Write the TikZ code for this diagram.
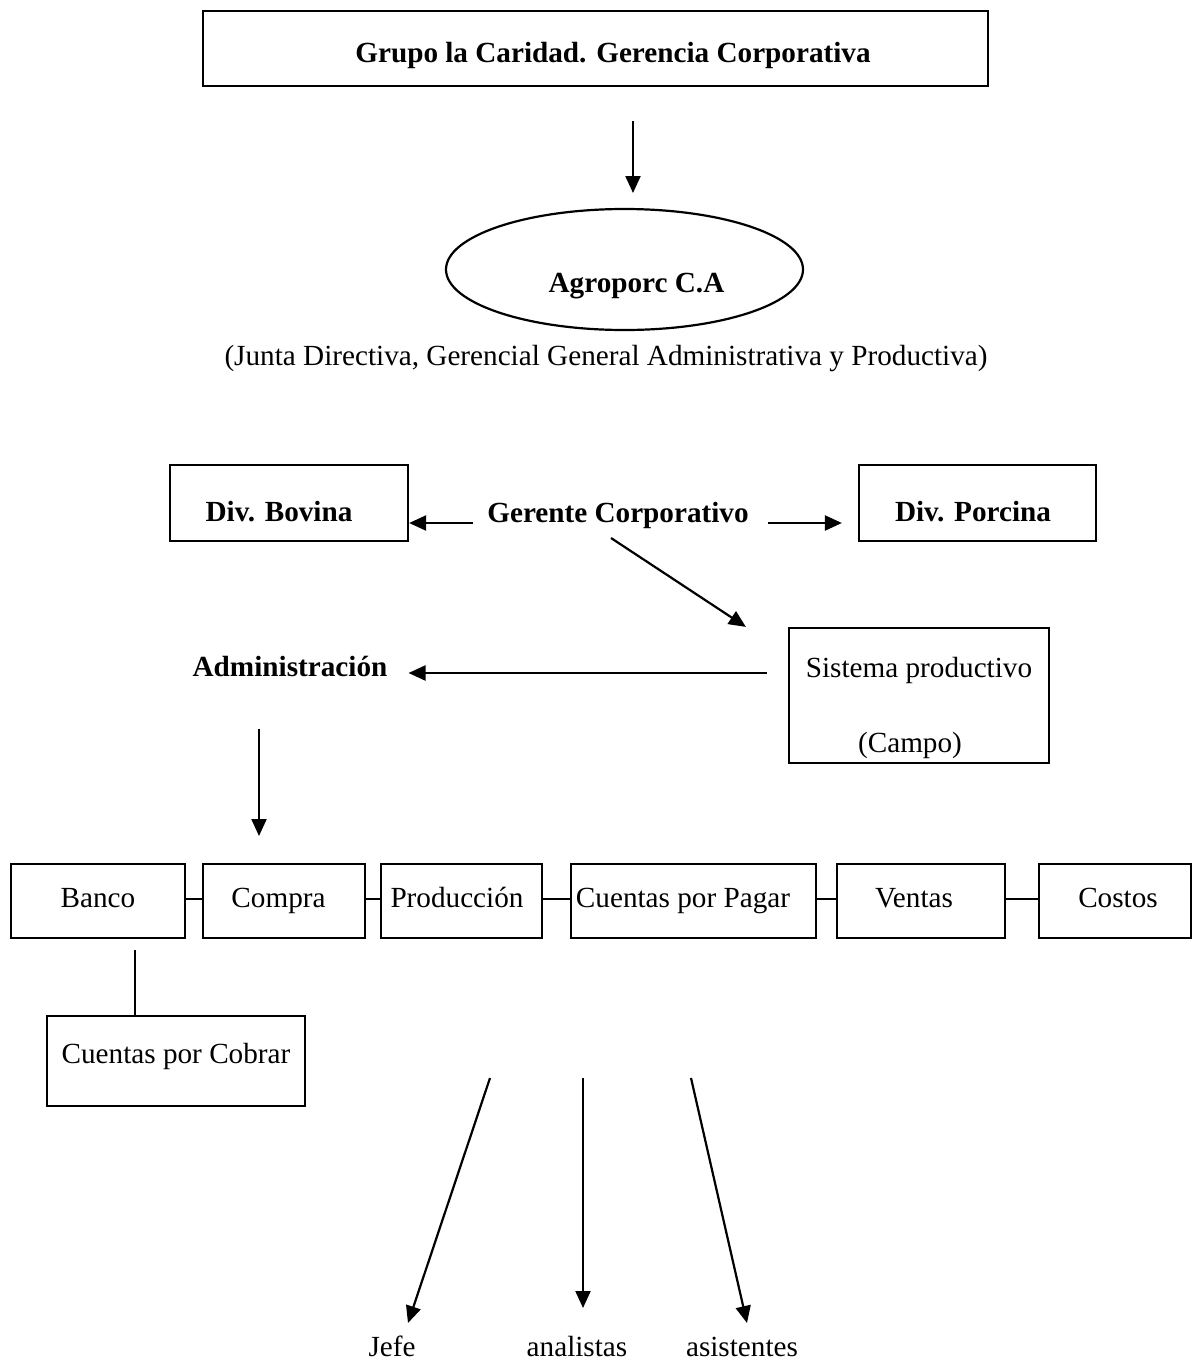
\documentclass[tikz,border=0pt]{standalone}
\usepackage{fontspec}
\setmainfont{Liberation Serif}
\usetikzlibrary{arrows.meta,shapes.geometric}
\newcommand{\offtext}[3]{\raisebox{#2}[\height][\depth]{\hspace*{#1}#3\hspace*{-#1}}}
\tikzset{
  txt/.style={font=\fontsize{29.2}{35}\selectfont},
  btxt/.style={font=\fontsize{29.2}{35}\selectfont\bfseries},
  box/.style={draw, line width=2.2pt, inner sep=0pt, txt},
  rowbox/.style={box, minimum height=74pt, text height=20pt, text depth=6.6pt},
  bbox/.style={draw, line width=2.2pt, inner sep=0pt, btxt},
  arr/.style={-{Triangle[length=17pt,width=15pt]}, line width=2.2pt},
  ln/.style={line width=2.2pt},
}
\begin{document}
\begin{tikzpicture}[x=1pt,y=-1pt]
\useasboundingbox (0,0) rectangle (1194,1363);

% top
\node[bbox, minimum width=785pt, minimum height=75pt] (top) at (595.5,48.5)
  {\offtext{17.5pt}{-7pt}{Grupo la Caridad. Gerencia Corporativa}};
\coordinate (t1) at (633,121);
\coordinate (t2) at (633,193);
\draw[arr] (t1) -- (t2);

\node[draw, ellipse, line width=2.2pt, inner sep=0pt, btxt,
      minimum width=357pt, minimum height=121pt] (agro) at (624.5,269.5)
  {\offtext{12pt}{-17pt}{Agroporc C.A}};
\node[txt, anchor=base] (junta) at (606,365)
  {(Junta Directiva, Gerencial General Administrativa y Productiva)};

% middle
\node[bbox, minimum width=238pt, minimum height=76pt] (bov) at (289,503)
  {\offtext{-10pt}{-9pt}{Div. Bovina}};
\node[btxt, anchor=base, inner sep=0pt] (gc) at (618,522) {Gerente Corporativo};
\node[bbox, minimum width=237pt, minimum height=76pt] (por) at (977.5,503)
  {\offtext{-4.5pt}{-9pt}{Div. Porcina}};
\draw[arr] ([xshift=-14pt,yshift=-1pt]gc.base west) -- ([yshift=-1pt]bov.east |- gc.base);
\draw[arr] ([xshift=19pt,yshift=-1pt]gc.base east) -- ([xshift=-16pt,yshift=-1pt]por.west |- gc.base);

\node[box, minimum width=260pt, minimum height=135pt] (sis) at (919,695.5)
  {\offtext{0pt}{-12pt}{\begin{tabular}{@{}c@{}}Sistema productivo\\[40pt]\hspace*{-18pt}(Campo)\end{tabular}}};
\draw[arr] ([xshift=-7pt,yshift=-16pt]gc.base) -- ([xshift=-42pt]sis.north west);

\node[btxt, anchor=base, inner sep=0pt] (adm) at (290,676) {Administración};
\draw[arr] ([xshift=-21pt,yshift=3pt]sis.west |- adm.base) -- ([xshift=21pt,yshift=3pt]adm.base east);

\coordinate (d1) at (259,729);
\coordinate (d2) at (259,836);
\draw[arr] (d1) -- (d2);

% row
\node[rowbox, minimum width=174pt] (banco) at (98,901) {Banco};
\node[rowbox, minimum width=162pt] (compra) at (284,901) {\offtext{-5.5pt}{0pt}{Compra}};
\node[rowbox, minimum width=161pt] (prod) at (461.5,901) {\offtext{-4.5pt}{0pt}{Producción}};
\node[rowbox, minimum width=245pt] (cpp) at (693.5,901) {\offtext{-10.5pt}{0pt}{Cuentas por Pagar}};
\node[rowbox, minimum width=168pt] (ventas) at (921,901) {\offtext{-7pt}{0pt}{Ventas}};
\node[rowbox, minimum width=152pt] (costos) at (1115,901) {\offtext{3pt}{0pt}{Costos}};
\draw[ln] ([yshift=2pt]banco.east) -- ([yshift=2pt]compra.west);
\draw[ln] ([yshift=2pt]compra.east) -- ([yshift=2pt]prod.west);
\draw[ln] ([yshift=2pt]prod.east) -- ([yshift=2pt]cpp.west);
\draw[ln] ([yshift=2pt]cpp.east) -- ([yshift=2pt]ventas.west);
\draw[ln] ([yshift=2pt]ventas.east) -- ([yshift=2pt]costos.west);

\node[box, minimum width=258pt, minimum height=90pt] (cxc) at (176,1061)
  {\offtext{0pt}{5pt}{Cuentas por Cobrar}};
\coordinate (bc) at (135,950);
\draw[ln] (bc) -- (bc |- cxc.north);

% bottom
\node[txt, anchor=base] (jefe) at (392,1356) {Jefe};
\node[txt, anchor=base] (anal) at (577,1356) {analistas};
\node[txt, anchor=base] (asis) at (742,1356) {asistentes};
\coordinate (j1) at (490,1078);
\coordinate (j2) at (408,1323);
\coordinate (a1) at (583,1078);
\coordinate (a2) at (583,1308);
\coordinate (s1) at (691,1078);
\coordinate (s2) at (747,1323);
\draw[arr] (j1) -- (j2);
\draw[arr] (a1) -- (a2);
\draw[arr] (s1) -- (s2);
\end{tikzpicture}
\end{document}
